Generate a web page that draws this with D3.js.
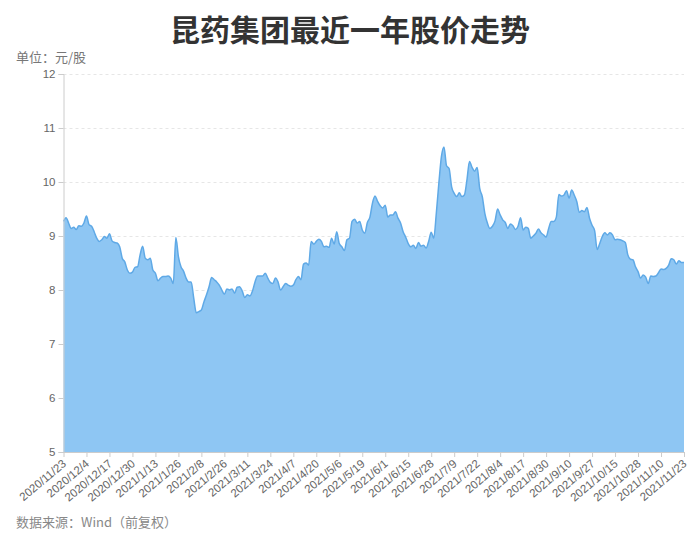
<!DOCTYPE html>
<html lang="zh-CN">
<head>
    <meta charset="UTF-8">
    <title>昆药集团最近一年股价走势</title>
    <style>
        body { margin: 0; background: #fff; }
        svg { font-family: "Noto Sans CJK SC", "Noto Sans", sans-serif; }
        .grid line { stroke: #e6e6e6; stroke-dasharray: 3,3; }
        .axis path, .axis line { stroke: #ccc; }
        .axis text { fill: #666; font-size: 11.5px; }
    </style>
</head>
<body>
    <script src="https://cdn.jsdelivr.net/npm/d3@7/dist/d3.min.js"></script>
    <script>
        var width = 700;
        var height = 545;
        var margin = { top: 74, right: 16, bottom: 93, left: 63.5 };

        // tick labels, one every 9 trading days
        var tickLabels = [
            "2020/11/23", "2020/12/4", "2020/12/17", "2020/12/30", "2021/1/13", "2021/1/26",
            "2021/2/8", "2021/2/26", "2021/3/11", "2021/3/24", "2021/4/7", "2021/4/20",
            "2021/5/6", "2021/5/19", "2021/6/1", "2021/6/15", "2021/6/28", "2021/7/9",
            "2021/7/22", "2021/8/4", "2021/8/17", "2021/8/30", "2021/9/10", "2021/9/27",
            "2021/10/15", "2021/10/28", "2021/11/10", "2021/11/23"
        ];
        var tickStep = 9;

        // closing price per trading day (yuan)
        var prices = [
            9.27, 9.34, 9.24, 9.14, 9.16, 9.12, 9.19, 9.18, 9.24, 9.37,
            9.21, 9.18, 9.08, 8.96, 8.90, 8.93, 8.99, 8.96, 9.04, 8.91,
            8.88, 8.87, 8.80, 8.59, 8.52, 8.37, 8.31, 8.33, 8.42, 8.43,
            8.65, 8.81, 8.59, 8.56, 8.59, 8.37, 8.31, 8.17, 8.22, 8.25,
            8.25, 8.26, 8.22, 8.12, 8.97, 8.62, 8.43, 8.35, 8.22, 8.15,
            8.15, 7.85, 7.58, 7.60, 7.63, 7.78, 7.91, 8.06, 8.23, 8.19,
            8.15, 8.09, 8.00, 7.92, 8.02, 8.00, 8.02, 7.94, 8.05, 8.06,
            7.98, 7.86, 7.91, 7.89, 7.98, 8.15, 8.26, 8.26, 8.26, 8.31,
            8.22, 8.14, 8.12, 8.22, 8.15, 8.00, 8.06, 8.12, 8.09, 8.07,
            8.09, 8.19, 8.25, 8.19, 8.48, 8.50, 8.46, 8.90, 8.85, 8.90,
            8.94, 8.90, 8.80, 8.81, 8.79, 8.96, 8.85, 9.08, 8.86, 8.80,
            8.73, 8.93, 8.96, 9.27, 9.31, 9.24, 9.27, 9.11, 9.05, 9.25,
            9.35, 9.61, 9.74, 9.64, 9.56, 9.52, 9.57, 9.35, 9.39, 9.39,
            9.45, 9.33, 9.24, 9.08, 8.98, 8.86, 8.80, 8.83, 8.77, 8.88,
            8.81, 8.83, 8.78, 8.90, 9.07, 8.96, 9.42, 9.98, 10.47, 10.65,
            10.30, 10.25, 9.91, 9.79, 9.73, 9.80, 9.73, 9.76, 10.04, 10.38,
            10.27, 10.20, 10.27, 9.88, 9.73, 9.42, 9.24, 9.14, 9.18, 9.28,
            9.50, 9.39, 9.30, 9.25, 9.14, 9.22, 9.19, 9.12, 9.18, 9.34,
            9.11, 9.16, 9.14, 8.96, 9.00, 9.05, 9.13, 9.06, 9.02, 8.98,
            9.14, 9.27, 9.27, 9.35, 9.77, 9.74, 9.76, 9.84, 9.70, 9.85,
            9.76, 9.64, 9.44, 9.47, 9.45, 9.53, 9.33, 9.20, 9.10, 8.75,
            8.86, 8.99, 9.06, 9.02, 9.06, 9.02, 8.93, 8.94, 8.93, 8.91,
            8.88, 8.65, 8.57, 8.56, 8.43, 8.34, 8.22, 8.28, 8.24, 8.12,
            8.26, 8.25, 8.26, 8.32, 8.39, 8.38, 8.40, 8.46, 8.58, 8.56,
            8.48, 8.54, 8.51, 8.51
        ];

        var yTicks = [5, 6, 7, 8, 9, 10, 11, 12];

        var svg = d3.select("body")
                    .append("svg")
                    .attr("width", width)
                    .attr("height", height);

        var x = d3.scaleLinear()
            .domain([0, prices.length - 1])
            .range([margin.left, width - margin.right]);

        var y = d3.scaleLinear()
            .domain([5, 12])
            .range([height - margin.bottom, margin.top]);

        // title
        svg.append("text")
            .attr("x", width / 2)
            .attr("y", 41)
            .attr("text-anchor", "middle")
            .attr("font-size", 30)
            .attr("font-weight", "bold")
            .attr("fill", "#333")
            .text("昆药集团最近一年股价走势");

        svg.append("text")
            .attr("x", 16)
            .attr("y", 62)
            .attr("font-size", 13)
            .attr("fill", "#777")
            .text("单位：元/股");

        // dashed grid
        svg.append("g")
            .attr("class", "grid")
            .selectAll("line")
            .data(yTicks.filter(function(d) { return d > 5; }))
            .enter()
            .append("line")
            .attr("x1", margin.left)
            .attr("x2", width - margin.right)
            .attr("y1", function(d) { return y(d) + 0.5; })
            .attr("y2", function(d) { return y(d) + 0.5; });

        var area = d3.area()
            .x(function(d, i) { return x(i); })
            .y0(y(5))
            .y1(function(d) { return y(d); })
            .curve(d3.curveMonotoneX);

        var line = d3.line()
            .x(function(d, i) { return x(i); })
            .y(function(d) { return y(d); })
            .curve(d3.curveMonotoneX);

        svg.append("path")
            .datum(prices)
            .attr("d", area)
            .attr("fill", "#8ec6f3");

        svg.append("path")
            .datum(prices)
            .attr("d", line)
            .attr("fill", "none")
            .attr("stroke", "#5fa9e6")
            .attr("stroke-width", 1.5);

        // y axis
        svg.append("g")
            .attr("class", "axis")
            .attr("transform", "translate(" + margin.left + ",0)")
            .call(d3.axisLeft(y)
                .tickValues(yTicks)
                .tickFormat(d3.format("d"))
                .tickSize(5)
                .tickPadding(3));

        // x axis
        var tickIdx = tickLabels.map(function(d, i) { return i * tickStep; });
        var xAxis = svg.append("g")
            .attr("class", "axis")
            .attr("transform", "translate(0," + y(5) + ")")
            .call(d3.axisBottom(x)
                .tickValues(tickIdx)
                .tickSize(5)
                .tickSizeOuter(0)
                .tickFormat(function(d) { return tickLabels[d / tickStep]; }));

        xAxis.selectAll("text")
            .attr("text-anchor", "end")
            .attr("dy", null)
            .attr("y", 0)
            .attr("transform", "translate(3,13) rotate(-40)");

        // source note
        svg.append("text")
            .attr("x", 16)
            .attr("y", 527)
            .attr("font-size", 13)
            .attr("fill", "#888")
            .text("数据来源：Wind（前复权）");
    </script>
</body>
</html>
